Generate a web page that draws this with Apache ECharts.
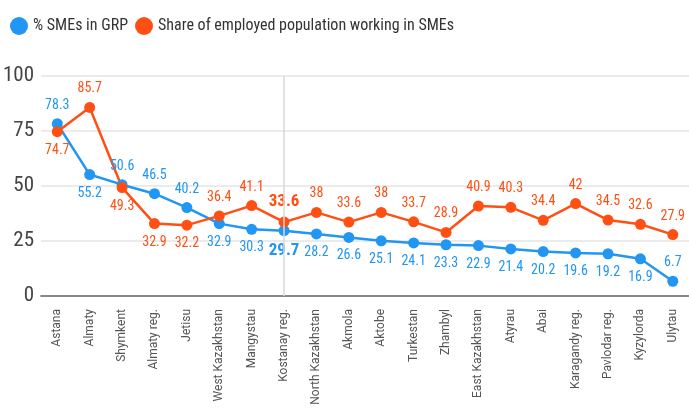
<!DOCTYPE html>
<html lang="en">
<head>
    <meta charset="UTF-8">
    <title>SMEs by region</title>
    <style>
        body { margin: 0; background: #fff; }
        #main { width: 689px; height: 418px; }
    </style>
</head>
<body>
    <div id="main"></div>
    <script src="https://cdn.jsdelivr.net/npm/echarts@6/dist/echarts.min.js"></script>
    <script>
        // regions
        var regions = ['Astana', 'Almaty', 'Shymkent', 'Almaty reg.', 'Jetisu', 'West Kazakhstan', 'Mangystau',
            'Kostanay reg.', 'North Kazakhstan', 'Akmola', 'Aktobe', 'Turkestan', 'Zhambyl', 'East Kazakhstan',
            'Atyrau', 'Abai', 'Karagandy reg.', 'Pavlodar reg.', 'Kyzylorda', 'Ulytau'];
        // % SMEs in GRP
        var grpShare = [78.3, 55.2, 50.6, 46.5, 40.2, 32.9, 30.3, 29.7, 28.2, 26.6, 25.1, 24.1, 23.3, 22.9,
            21.4, 20.2, 19.6, 19.2, 16.9, 6.7];
        // share of employed population working in SMEs
        var empShare = [74.7, 85.7, 49.3, 32.9, 32.2, 36.4, 41.1, 33.6, 38, 33.6, 38, 33.7, 28.9, 40.9,
            40.3, 34.4, 42, 34.5, 32.6, 27.9];
        var yTicks = [0, 25, 50, 75, 100];

        // label placement (top/bottom) for each point
        var bluePos = ['top', 'bottom', 'top', 'top', 'top', 'bottom', 'bottom', 'bottom', 'bottom', 'bottom',
            'bottom', 'bottom', 'bottom', 'bottom', 'bottom', 'bottom', 'bottom', 'bottom', 'bottom', 'top'];
        var orangePos = ['bottom', 'top', 'bottom', 'bottom', 'bottom', 'top', 'top', 'top', 'top', 'top',
            'top', 'top', 'top', 'top', 'top', 'top', 'top', 'top', 'top', 'top'];
        var hiIdx = 7; // Kostanay reg.

        var FONT = "'Roboto Condensed', 'Roboto', sans-serif";
        var BLUE = '#2196f3', ORANGE = '#ff4f12';

        function build(vals, pos) {
            return vals.map(function (v, i) {
                var hi = i === hiIdx;
                return {
                    value: v,
                    label: {
                        position: pos[i],
                        fontSize: hi ? 17 : 14,
                        fontWeight: hi ? 'bold' : 'normal',
                        distance: 6
                    }
                };
            });
        }

        var myChart = echarts.init(document.getElementById('main'));
        var option = {
            animation: false,
            textStyle: { fontFamily: FONT },
            legend: {
                left: 5,
                top: 12,
                icon: 'circle',
                itemWidth: 18,
                itemHeight: 18,
                itemGap: 7,
                textStyle: { fontSize: 16, color: '#333', fontFamily: FONT }
            },
            grid: { left: 41, right: -6, top: 76, bottom: 122 },
            xAxis: {
                type: 'category',
                data: regions,
                axisTick: { show: false },
                axisLine: { lineStyle: { color: '#888', width: 2 } },
                axisLabel: { rotate: 90, fontSize: 12, color: '#555', margin: 13, interval: 0, fontFamily: 'Roboto' }
            },
            yAxis: {
                type: 'value',
                min: yTicks[0],
                max: yTicks[yTicks.length - 1],
                interval: 25,
                axisLabel: { fontSize: 21, color: '#444', margin: 7, fontFamily: FONT },
                splitLine: { lineStyle: { color: '#e5e5e5', width: 1.5 } }
            },
            series: [{
                name: '% SMEs in GRP',
                type: 'line',
                data: build(grpShare, bluePos),
                symbol: 'circle',
                symbolSize: 11,
                itemStyle: { color: BLUE },
                lineStyle: { width: 2.5, color: BLUE },
                label: { show: true, color: BLUE, fontFamily: FONT },
                markLine: {
                    silent: true,
                    symbol: 'none',
                    label: { show: false },
                    lineStyle: { color: '#d8d8d8', width: 1.5, type: 'solid' },
                    data: [{ xAxis: regions[hiIdx] }]
                }
            }, {
                name: 'Share of employed population working in SMEs',
                type: 'line',
                data: build(empShare, orangePos),
                symbol: 'circle',
                symbolSize: 11,
                itemStyle: { color: ORANGE },
                lineStyle: { width: 2.5, color: ORANGE },
                label: { show: true, color: ORANGE, fontFamily: FONT }
            }]
        };
        myChart.setOption(option);
    </script>
</body>
</html>
